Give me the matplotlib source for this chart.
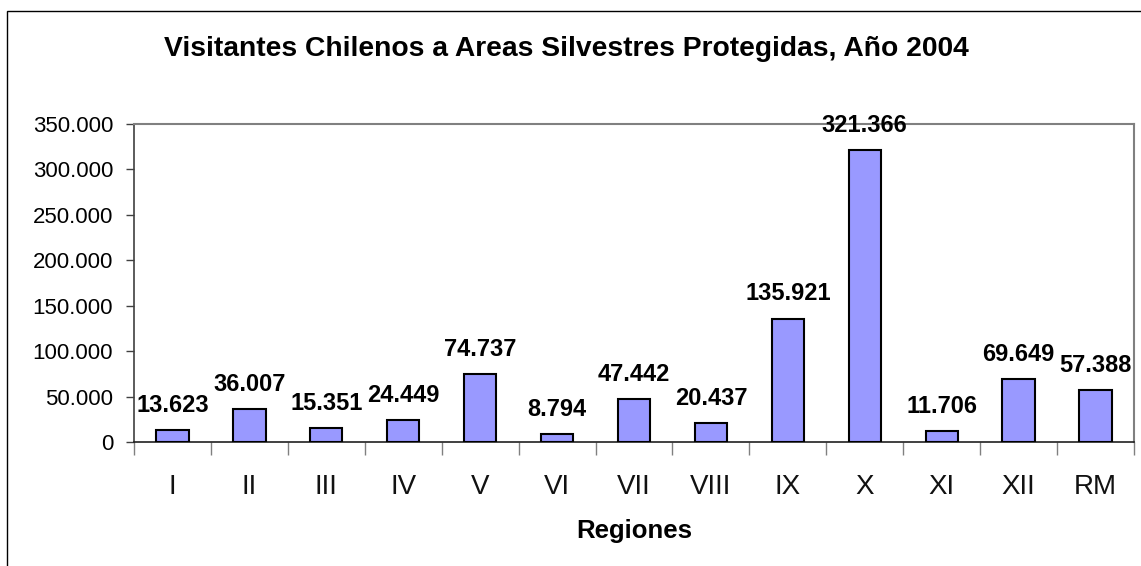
import matplotlib
matplotlib.use("Agg")
import matplotlib.pyplot as plt
from matplotlib.patches import Rectangle
from matplotlib.ticker import FuncFormatter, FixedLocator, NullFormatter

plt.rcParams['font.family'] = ['Liberation Sans', 'DejaVu Sans']

regions = ["I", "II", "III", "IV", "V", "VI", "VII", "VIII", "IX", "X", "XI", "XII", "RM"]
visitors = [13623, 36007, 15351, 24449, 74737, 8794, 47442, 20437, 135921, 321366, 11706, 69649, 57388]
title = "Visitantes Chilenos a Areas Silvestres Protegidas, Año 2004"
xlabel = "Regiones"

W, H = 1141, 566
fig = plt.figure(figsize=(W / 100, H / 100), dpi=100)
fig.patch.set_facecolor("white")

# outer border
fig.patches.append(Rectangle((7 / W, -0.05), 1.2, 1 - 11 / H + 0.05, transform=fig.transFigure,
                             fill=False, edgecolor="black", linewidth=1.0, zorder=0))

ax = fig.add_axes([134 / W, 1 - 442 / H, 1000 / W, (442 - 124) / H])
x = list(range(len(regions)))
ax.bar(x, visitors, width=0.42, color="#9999FF", edgecolor="black", linewidth=1.5, zorder=3)
ax.set_xlim(-0.5, len(regions) - 0.5)
ax.set_ylim(0, 350000)

def fmt(v):
    return f"{int(round(v)):,}".replace(",", ".")

ax.yaxis.set_major_locator(FixedLocator(list(range(0, 350001, 50000))))
ax.yaxis.set_major_formatter(FuncFormatter(lambda v, p: fmt(v)))
ax.tick_params(axis="y", direction="out", length=6, width=1, color="#404040",
               labelsize=16, pad=9, labelcolor="black")

# category boundary ticks on x axis
ax.xaxis.set_major_locator(FixedLocator([i - 0.5 for i in range(len(regions) + 1)]))
ax.xaxis.set_major_formatter(NullFormatter())
ax.xaxis.set_minor_locator(FixedLocator(x))
ax.xaxis.set_minor_formatter(FuncFormatter(lambda v, p: regions[int(round(v))]))
ax.tick_params(axis="x", which="major", direction="out", length=9, width=1, color="#808080")
ax.tick_params(axis="x", which="minor", length=0, labelsize=20, pad=23, labelcolor="#111111")

for side in ["top", "right"]:
    ax.spines[side].set_color("#808080")
    ax.spines[side].set_linewidth(1.5)
ax.spines["left"].set_color("#404040")
ax.spines["bottom"].set_color("#202020")
ax.spines["left"].set_linewidth(1.2)
ax.spines["bottom"].set_linewidth(1.2)

for xi, v in zip(x, visitors):
    ax.annotate(fmt(v), (xi, v), xytext=(0, 13), textcoords="offset points",
                ha="center", va="baseline", fontsize=17, fontweight="bold", zorder=4)

fig.text(566 / W, 1 - 49 / H, title, ha="center", va="center", fontsize=20.3, fontweight="bold")
fig.text(634 / W, 1 - 531 / H, xlabel, ha="center", va="center", fontsize=18.5, fontweight="bold")

fig.savefig("out.png", dpi=100)
